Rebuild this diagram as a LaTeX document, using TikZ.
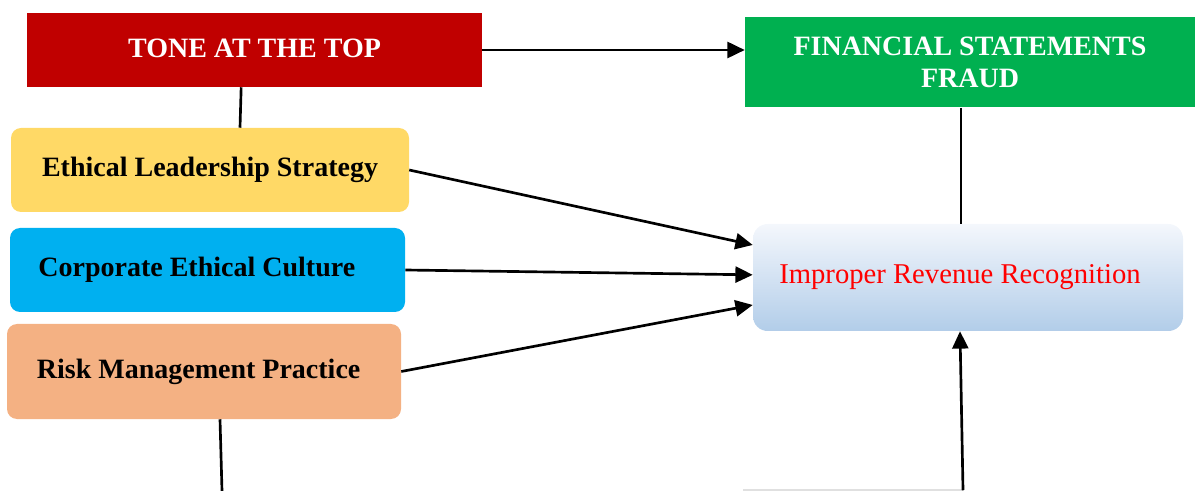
\documentclass[tikz,border=0pt]{standalone}
\usepackage{fontspec}
\setmainfont{Liberation Serif}
\usetikzlibrary{arrows.meta,positioning,calc}
\definecolor{toned}{HTML}{C00000}
\definecolor{fraudg}{HTML}{00B050}
\definecolor{ethicy}{HTML}{FFD966}
\definecolor{cultureb}{HTML}{00B0F0}
\definecolor{risko}{HTML}{F4B183}
\definecolor{revtop}{RGB}{244,247,252}
\definecolor{revbot}{RGB}{178,205,233}
\tikzset{
    head/.style =   {rectangle,
                    draw=none,
                    text=white,
                    font=\fontsize{21}{24}\selectfont\bfseries,
                    align=center,
                    inner sep=0pt},
    factor/.style = {rectangle,
                    rounded corners=7.5pt,
                    draw=none,
                    text=black,
                    font=\fontsize{21}{24}\selectfont\bfseries,
                    inner sep=0pt},
    result/.style = {rectangle,
                    rounded corners=11pt,
                    draw=none,
                    top color=revtop,
                    bottom color=revbot,
                    text=red,
                    font=\fontsize{21.5}{24}\selectfont,
                    inner sep=0pt},
    link/.style =   {line width=2pt,
                    draw=black},
    -,
    >={Triangle[length=13pt,width=12pt]}}

\begin{document}
\begin{tikzpicture}[x=0.75pt,y=-0.75pt]
                \useasboundingbox (0,0) rectangle (1195,491);
                \node[head,fill=toned,minimum width=341.25pt,minimum height=55.5pt]   (tone)    at (254.5,50)  {\raisebox{3pt}{TONE AT THE TOP}};
                \node[head,fill=fraudg,minimum width=337.5pt,minimum height=67.5pt]   (fraud)   at (970,62.5)  {FINANCIAL STATEMENTS\\FRAUD};
                \node[factor,fill=ethicy,minimum width=298.5pt,minimum height=63pt]   (ethic)   at (210,170)   {Ethical Leadership Strategy};
                \node[factor,fill=cultureb,minimum width=296.25pt,minimum height=63pt] (culture) at (207.5,270) {\hspace*{-16pt}\raisebox{3pt}{Corporate Ethical Culture}};
                \node[factor,fill=risko,minimum width=295.5pt,minimum height=71.25pt] (risk)    at (204,371.5) {\hspace*{-8pt}\raisebox{2pt}{Risk Management Practice}};
                \node[result,minimum width=322.5pt,minimum height=80.25pt]            (revenue) at (968,277.5) {\hspace*{-12pt}Improper Revenue Recognition};

                \coordinate (riskend) at (222,491);
                \coordinate (revbase) at (963,490);
                \coordinate (baseleft) at (743,490);

                \draw [line width=1pt,black!12] (baseleft) -- (revbase);

                \path [link,->]  (tone.east)              edge []  (tone.east -| fraud.west)
                                 (ethic.east)             edge []  ([yshift=24.4pt]revenue.west)
                                 (culture.east)           edge []  ([yshift=2pt]revenue.west)
                                 (risk.east)              edge []  ([yshift=-20.6pt]revenue.west)
                                 (revbase)                edge []  ([xshift=-6pt]revenue.south);
                \path [link,-]   ([xshift=-10pt]tone.south)  edge []  ([xshift=22.5pt]ethic.north)
                                 ([xshift=-6.75pt]fraud.south) edge [] ([xshift=-5.25pt]revenue.north)
                                 ([xshift=12pt]risk.south)   edge []  (riskend);
        \end{tikzpicture}
\end{document}
